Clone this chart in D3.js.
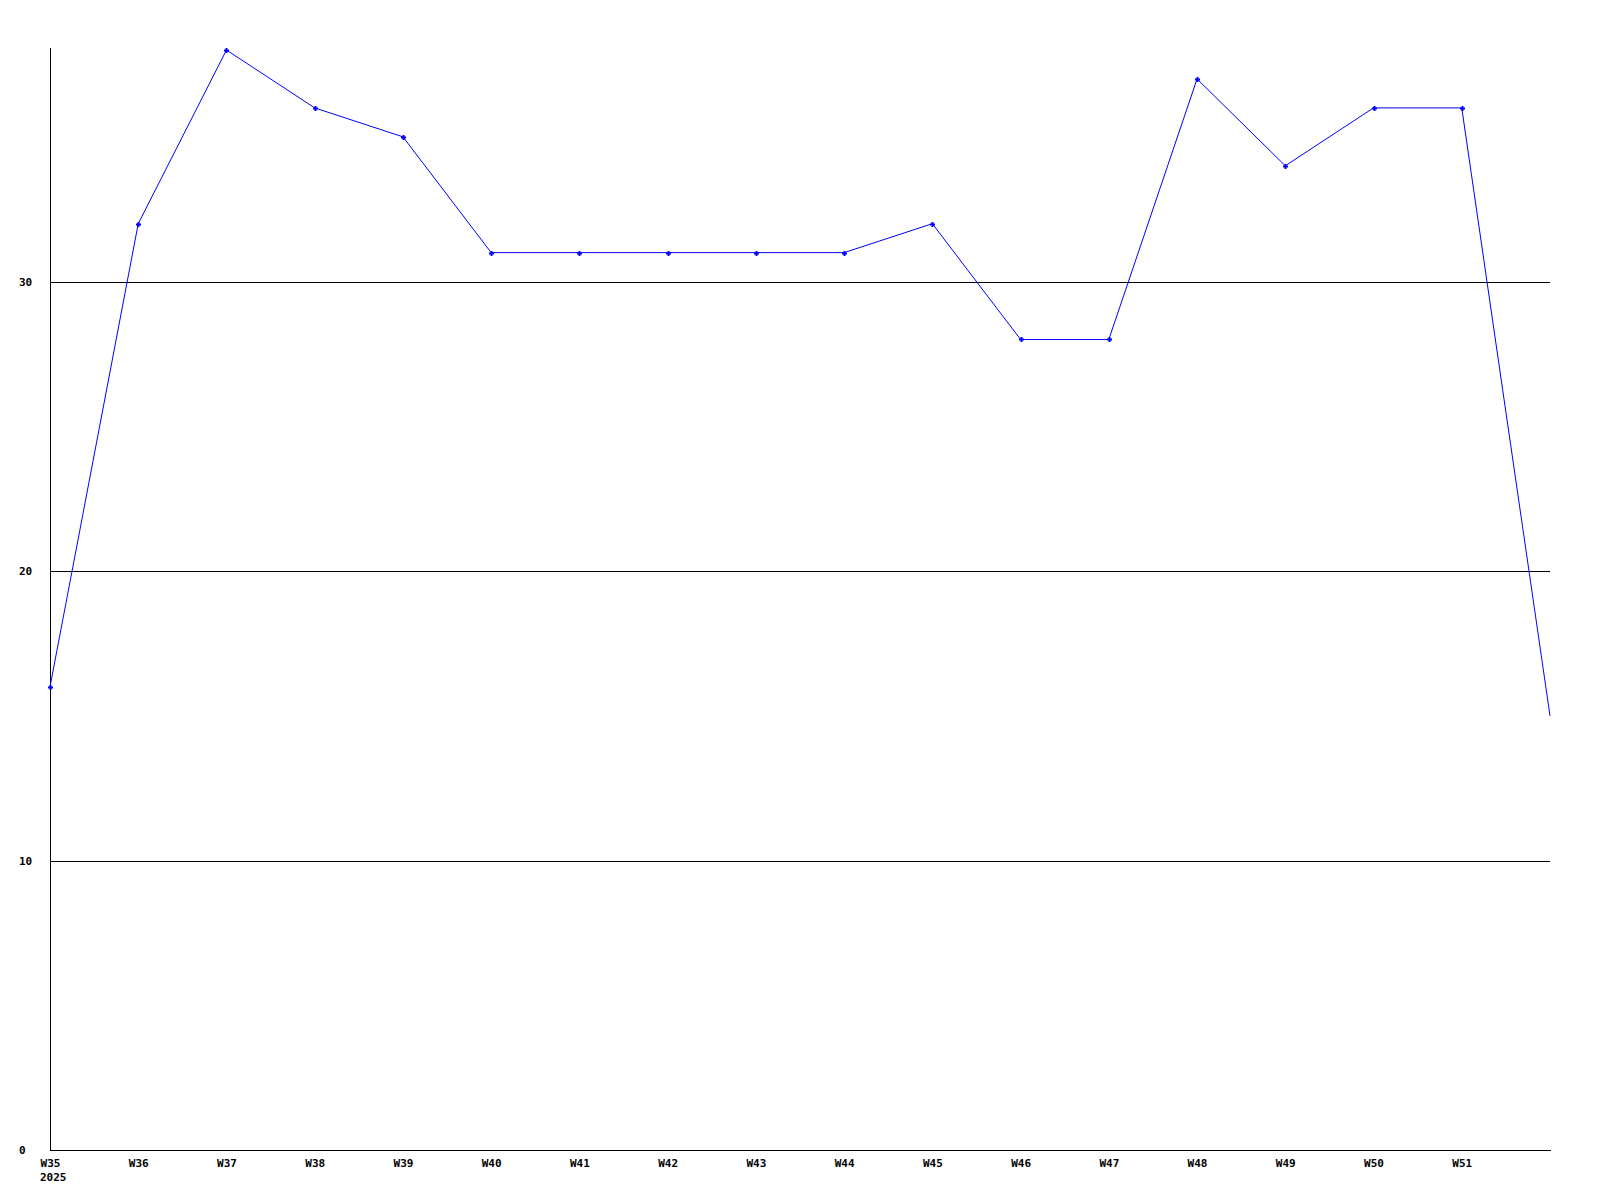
<!DOCTYPE html>
<html>
<head>
<meta charset="utf-8">
<script src="https://cdn.jsdelivr.net/npm/d3@7"></script>
<style>
  body { margin: 0; background: #fff; }
  svg { display: block; }
  .tick text { font-family: "DejaVu Sans Mono", monospace; font-weight: bold; font-size: 11px; fill: #000; }
</style>
</head>
<body>
<svg id="chart" width="1600" height="1200"></svg>
<script>
// weekly values, last point (W52) has no label and no marker
var weeks = ['W35','W36','W37','W38','W39','W40','W41','W42','W43','W44','W45','W46','W47','W48','W49','W50','W51','W52'];
var values = [16, 32, 38, 36, 35, 31, 31, 31, 31, 31, 32, 28, 28, 37, 34, 36, 36, 15];
var yTicks = [0, 10, 20, 30];
var yearLabel = '2025';

var plotLeft = 50, plotRight = 1550, plotTop = 50, plotBottom = 1150;

var svg = d3.select('#chart');

var x = d3.scaleLinear().domain([0, weeks.length - 1]).range([plotLeft, plotRight]);
var y = d3.scaleLinear().domain([0, 38]).range([plotBottom, plotTop]);

// grid lines
svg.append('g')
  .selectAll('line')
  .data(yTicks.filter(function(d) { return d > 0; }))
  .enter().append('line')
  .attr('x1', plotLeft).attr('x2', plotRight)
  .attr('y1', function(d) { return Math.round(y(d)) + 0.5; })
  .attr('y2', function(d) { return Math.round(y(d)) + 0.5; })
  .attr('stroke', '#000')
  .attr('shape-rendering', 'crispEdges');

// axes lines
svg.append('line')
  .attr('x1', plotLeft + 0.5).attr('x2', plotLeft + 0.5)
  .attr('y1', plotTop - 2).attr('y2', plotBottom)
  .attr('stroke', '#000').attr('shape-rendering', 'crispEdges');
svg.append('line')
  .attr('x1', plotLeft).attr('x2', plotRight + 1)
  .attr('y1', plotBottom + 0.5).attr('y2', plotBottom + 0.5)
  .attr('stroke', '#000').attr('shape-rendering', 'crispEdges');

var xAxis = d3.axisBottom(x)
  .tickValues(d3.range(weeks.length - 1))
  .tickFormat(function(i) { return weeks[i]; })
  .tickSize(0)
  .tickPadding(9);

var gx = svg.append('g')
  .attr('transform', 'translate(0,' + plotBottom + ')')
  .call(xAxis);
gx.select('.domain').remove();

gx.append('text')
  .attr('class', 'year')
  .attr('x', x(0) - 10)
  .attr('y', 31)
  .attr('text-anchor', 'start')
  .attr('font-family', '"DejaVu Sans Mono", monospace')
  .attr('font-weight', 'bold')
  .attr('font-size', '11px')
  .attr('fill', '#000')
  .text(yearLabel);

var yAxis = d3.axisLeft(y)
  .tickValues(yTicks)
  .tickFormat(d3.format('d'))
  .tickSize(0);

var gy = svg.append('g')
  .attr('transform', 'translate(' + plotLeft + ',0)')
  .call(yAxis);
gy.select('.domain').remove();
gy.selectAll('.tick text')
  .attr('text-anchor', 'start')
  .attr('x', -31);

// data line
var line = d3.line()
  .x(function(d, i) { return x(i); })
  .y(function(d) { return y(d); });

svg.append('path')
  .datum(values)
  .attr('d', line)
  .attr('fill', 'none')
  .attr('stroke', '#0000ff')
  .attr('stroke-width', 1);

// small plus markers
var marks = svg.append('g')
  .selectAll('g.mark')
  .data(values.slice(0, values.length - 1))
  .enter().append('g')
  .attr('class', 'mark')
  .attr('transform', function(d, i) { return 'translate(' + Math.round(x(i)) + ',' + Math.round(y(d)) + ')'; });

marks.append('rect')
  .attr('x', -2).attr('y', -0.5).attr('width', 5).attr('height', 2)
  .attr('fill', '#0000ff');
marks.append('rect')
  .attr('x', -0.5).attr('y', -2).attr('width', 2).attr('height', 5)
  .attr('fill', '#0000ff');
</script>
</body>
</html>
